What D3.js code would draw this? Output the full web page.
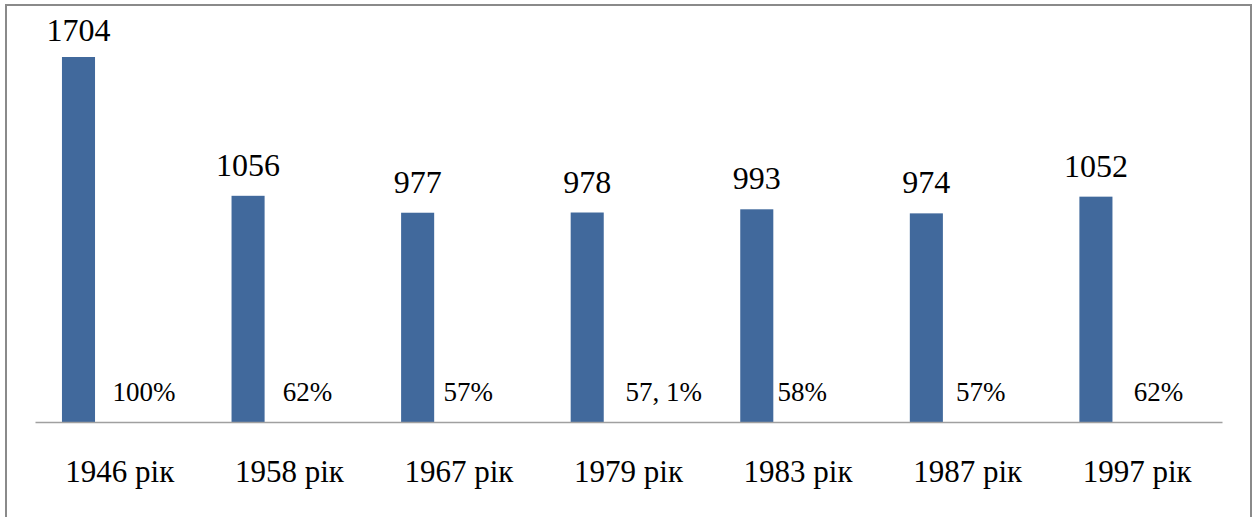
<!DOCTYPE html>
<html>
<head>
<meta charset="utf-8">
<script src="https://cdn.jsdelivr.net/npm/d3@7"></script>
<style>
  body { margin: 0; background: #fff; }
  svg text { font-family: "Liberation Serif", "Times New Roman", "DejaVu Serif", serif !important; }
</style>
</head>
<body>
<svg width="1257" height="517"></svg>
<script>
// chart data
var years = ["1946 рік", "1958 рік", "1967 рік", "1979 рік", "1983 рік", "1987 рік", "1997 рік"];
var counts = [1704, 1056, 977, 978, 993, 974, 1052];
var shares = ["100%", "62%", "57%", "57, 1%", "58%", "57%", "62%"];

// hand placed percent labels, px from the start of each band
var shareDx = [109, 103, 94, 120, 89, 98, 106];

var svg = d3.select("svg");
var baseY = 422;
var left = 35, right = 1222;

var rows = years.map(function(y, i) {
  return { year: y, count: counts[i], share: shares[i], dx: shareDx[i] };
});

// outer frame
svg.append("rect")
  .attr("x", 6).attr("y", 5)
  .attr("width", 1245).attr("height", 530)
  .attr("fill", "none")
  .attr("stroke", "#8a8a8a")
  .attr("stroke-width", 2);

var x = d3.scaleBand()
  .domain(years)
  .range([left, right]);

var yScale = d3.scaleLinear()
  .domain([0, 1704])
  .range([baseY, 57]);

var bw = x.bandwidth();
var barOff = bw * 0.159, barW = bw * 0.195;

svg.selectAll("rect.bar")
  .data(rows)
  .enter()
  .append("rect")
    .attr("class", "bar")
    .attr("x", function(d) { return x(d.year) + barOff; })
    .attr("width", barW)
    .attr("y", function(d) { return yScale(d.count); })
    .attr("height", function(d) { return baseY - yScale(d.count); })
    .attr("fill", "#41699c");

// value labels above bars
svg.selectAll("text.val")
  .data(rows)
  .enter()
  .append("text")
    .attr("class", "val")
    .attr("x", function(d) { return x(d.year) + barOff + barW / 2; })
    .attr("y", function(d) { return Math.max(yScale(d.count) - 20, 41); })
    .attr("text-anchor", "middle")
    .attr("font-size", 32)
    .attr("fill", "#000")
    .text(function(d) { return d.count; });

// percent labels
svg.selectAll("text.pct")
  .data(rows)
  .enter()
  .append("text")
    .attr("class", "pct")
    .attr("x", function(d) { return x(d.year) + d.dx; })
    .attr("y", 401)
    .attr("text-anchor", "middle")
    .attr("font-size", 27)
    .attr("fill", "#000")
    .text(function(d) { return d.share; });

// category axis
var xAxis = d3.axisBottom(x).tickSize(0).tickPadding(0);
var gx = svg.append("g")
  .attr("transform", "translate(0," + baseY + ")")
  .call(xAxis);
gx.attr("font-family", null);
gx.select(".domain")
  .attr("stroke", "#a0a0a0")
  .attr("stroke-width", 1.5);
gx.selectAll(".tick text")
  .attr("font-size", 31)
  .attr("fill", "#000")
  .attr("dy", 0)
  .attr("y", 60);
</script>
</body>
</html>
